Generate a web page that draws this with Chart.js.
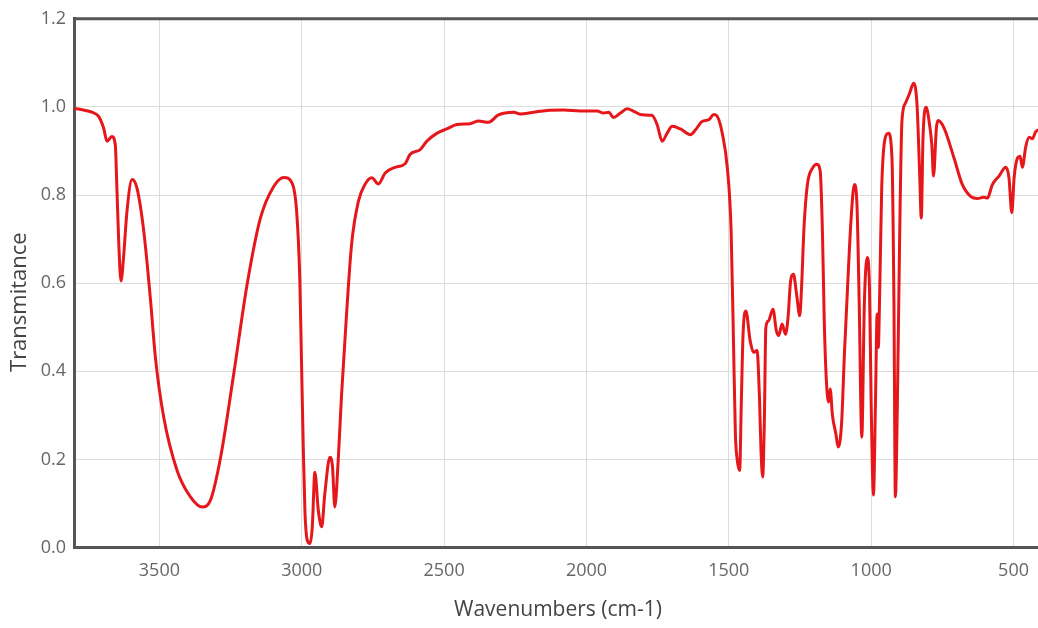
<!DOCTYPE html>
<html>
<head>
<meta charset="utf-8">
<script src="https://cdn.jsdelivr.net/npm/chart.js@4/dist/chart.umd.min.js"></script>
<style>
    html, body { margin: 0; padding: 0; background: #fff; overflow: hidden; }
    #wrap { width: 1042px; height: 628px; }
</style>
</head>
<body>
<div id="wrap"><canvas id="spectrum" width="1042" height="628"></canvas></div>
<script>
// Spectre IR (nombre d'onde en cm-1, transmittance)
const wavenumbers = [
    3800, 3796, 3760, 3737, 3713, 3696, 3684, 3667, 3655, 3649, 3643, 3635, 3626, 3614, 3596, 3579,
    3555, 3532, 3514, 3485, 3438, 3391, 3350, 3321, 3285, 3239, 3192, 3145, 3098, 3063, 3034, 3018,
    3007, 3001, 2995, 2989, 2981, 2971, 2963, 2954, 2942, 2930, 2919, 2901, 2892, 2884, 2872, 2860,
    2842, 2825, 2801, 2778, 2754, 2731, 2707, 2672, 2637, 2620, 2584, 2561, 2526, 2491, 2455, 2409,
    2379, 2344, 2309, 2256, 2233, 2186, 2139, 2080, 2022, 1963, 1940, 1922, 1905, 1881, 1857, 1834,
    1805, 1770, 1752, 1734, 1717, 1699, 1670, 1635, 1617, 1594, 1570, 1553, 1540, 1523, 1505, 1492,
    1484, 1477, 1471, 1462, 1456, 1450, 1440, 1425, 1413, 1401, 1392, 1387, 1381, 1375, 1370, 1361,
    1345, 1333, 1325, 1313, 1301, 1292, 1283, 1273, 1262, 1251, 1244, 1236, 1224, 1206, 1191, 1179,
    1171, 1165, 1159, 1150, 1144, 1136, 1124, 1116, 1104, 1094, 1083, 1071, 1059, 1050, 1042, 1033,
    1024, 1014, 1006, 1000, 992, 985, 979, 975, 970, 963, 951, 939, 927, 920, 915, 908,
    900, 892, 880, 865, 851, 839, 830, 824, 818, 807, 795, 787, 781, 771, 765, 744,
    709, 680, 651, 627, 604, 592, 574, 551, 527, 516, 506, 498, 486, 477, 469, 457,
    445, 434, 422, 411, 400
];
const transmittance = [
    0.995, 0.996, 0.992, 0.988, 0.978, 0.952, 0.922, 0.933, 0.914, 0.809, 0.695, 0.605, 0.658, 0.763, 0.835, 0.816,
    0.718, 0.567, 0.431, 0.296, 0.175, 0.115, 0.092, 0.107, 0.205, 0.394, 0.597, 0.748, 0.820, 0.840, 0.827, 0.763,
    0.612, 0.424, 0.236, 0.085, 0.017, 0.009, 0.047, 0.171, 0.085, 0.047, 0.122, 0.205, 0.183, 0.092, 0.198, 0.349,
    0.537, 0.688, 0.786, 0.824, 0.839, 0.825, 0.850, 0.863, 0.871, 0.892, 0.903, 0.922, 0.940, 0.950, 0.960, 0.962,
    0.968, 0.965, 0.982, 0.988, 0.984, 0.988, 0.992, 0.993, 0.991, 0.991, 0.986, 0.988, 0.976, 0.986, 0.996, 0.990,
    0.982, 0.981, 0.960, 0.922, 0.940, 0.956, 0.950, 0.937, 0.948, 0.967, 0.971, 0.983, 0.978, 0.940, 0.860, 0.720,
    0.480, 0.258, 0.202, 0.175, 0.333, 0.484, 0.537, 0.469, 0.443, 0.447, 0.333, 0.220, 0.160, 0.296, 0.499, 0.514,
    0.541, 0.492, 0.481, 0.507, 0.484, 0.522, 0.605, 0.620, 0.575, 0.526, 0.598, 0.726, 0.824, 0.861, 0.870, 0.854,
    0.711, 0.520, 0.401, 0.330, 0.360, 0.300, 0.258, 0.228, 0.281, 0.439, 0.590, 0.741, 0.824, 0.779, 0.552, 0.250,
    0.552, 0.658, 0.590, 0.326, 0.119, 0.326, 0.530, 0.454, 0.582, 0.816, 0.929, 0.940, 0.884, 0.552, 0.115, 0.326,
    0.703, 0.967, 1.008, 1.031, 1.054, 1.005, 0.854, 0.748, 0.929, 0.999, 0.960, 0.914, 0.843, 0.952, 0.969, 0.952,
    0.884, 0.824, 0.797, 0.792, 0.795, 0.793, 0.824, 0.843, 0.863, 0.839, 0.760, 0.839, 0.884, 0.888, 0.863, 0.910,
    0.931, 0.928, 0.944, 0.948, 0.950
];

const xTickValues = [3500, 3000, 2500, 2000, 1500, 1000, 500];
const yTickValues = [0, 0.2, 0.4, 0.6, 0.8, 1.0, 1.2];
const yTitle = 'Transmitance';

const points = wavenumbers.map((w, i) => ({ x: w, y: transmittance[i] }));

const fontFamily = "'Open Sans', 'Noto Sans', sans-serif";

// trait du cadre en haut (Chart.js ne dessine que les axes)
const topBorder = {
    id: 'topBorder',
    beforeDatasetsDraw(chart) {
        const ctx = chart.ctx;
        const area = chart.chartArea;
        ctx.save();
        ctx.strokeStyle = '#555';
        ctx.lineWidth = 3;
        ctx.beginPath();
        ctx.moveTo(area.left, area.top);
        ctx.lineTo(area.right, area.top);
        ctx.stroke();
        ctx.restore();
    }
};

// titre vertical un peu plus bas que le centre de la zone, comme sur l'original
const yTitlePlugin = {
    id: 'yTitle',
    afterDraw(chart) {
        const ctx = chart.ctx;
        const area = chart.chartArea;
        ctx.save();
        ctx.translate(20, (area.top + area.bottom) / 2 + 19);
        ctx.rotate(-Math.PI / 2);
        ctx.fillStyle = '#444';
        ctx.font = "22px " + fontFamily;
        ctx.textAlign = 'center';
        ctx.textBaseline = 'middle';
        ctx.fillText(yTitle, 0, 0);
        ctx.restore();
    }
};

new Chart(document.getElementById('spectrum').getContext('2d'), {
    type: 'line',
    data: {
        datasets: [{
            label: yTitle,
            data: points,
            borderColor: '#e5171b',
            borderWidth: 3,
            pointRadius: 0,
            fill: false,
            cubicInterpolationMode: 'monotone'
        }]
    },
    options: {
        responsive: false,
        animation: false,
        layout: { padding: { top: 17, right: 0, left: 0, bottom: 0 } },
        plugins: {
            legend: { display: false },
            tooltip: { enabled: false }
        },
        scales: {
            x: {
                type: 'linear',
                reverse: true,
                min: 400,
                max: 3800,
                afterBuildTicks: scale => { scale.ticks = xTickValues.map(v => ({ value: v })); },
                afterFit: scale => { scale.height = 80.5; },
                ticks: {
                    color: '#666',
                    padding: 13,
                    font: { family: fontFamily, size: 18 },
                    callback: v => String(v)
                },
                grid: { color: '#dcdcdc', lineWidth: 1, drawTicks: false },
                border: { color: '#555', width: 3 },
                title: {
                    display: true,
                    text: 'Wavenumbers (cm-1)',
                    color: '#444',
                    padding: { top: 0, bottom: 5 },
                    font: { family: fontFamily, size: 21 }
                }
            },
            y: {
                min: 0,
                max: 1.2,
                afterBuildTicks: scale => { scale.ticks = yTickValues.map(v => ({ value: v })); },
                afterFit: scale => { scale.width = 74; },
                ticks: {
                    color: '#666',
                    padding: 8,
                    font: { family: fontFamily, size: 18 },
                    callback: v => v.toFixed(1)
                },
                grid: { color: '#dcdcdc', lineWidth: 1, drawTicks: false },
                border: { color: '#555', width: 3 }
            }
        }
    },
    plugins: [topBorder, yTitlePlugin]
});
</script>
</body>
</html>
